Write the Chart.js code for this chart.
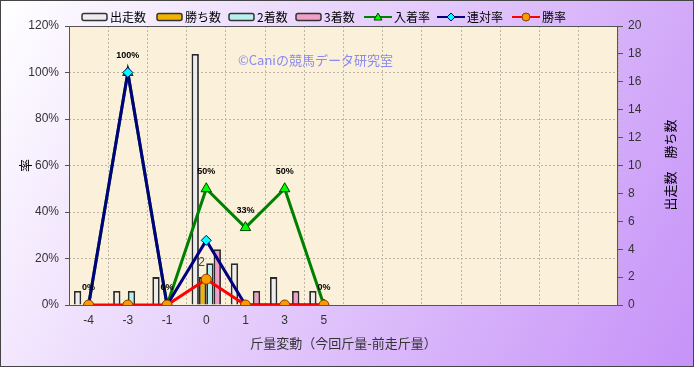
<!DOCTYPE html>
<html lang="ja">
<head>
<meta charset="UTF-8">
<title>斤量変動</title>
<script src="https://cdn.jsdelivr.net/npm/chart.js"></script>
<style>
  body { margin: 0; background: #fff; }
  #wrap { width: 694px; height: 367px; }
</style>
</head>
<body>
<div id="wrap"><canvas id="chart" width="694" height="367"></canvas></div>
<script>
// categories (only the first 7 have data, the rest are empty slots)
const categories = ['-4', '-3', '-1', '0', '1', '3', '5', '', '', '', '', '', '', ''];
const starts  = [1, 1, 2, 18, 3, 2, 1];
const wins    = [0, 0, 0, 2, 0, 0, 0];
const seconds = [0, 1, 0, 3, 0, 0, 0];
const thirds  = [0, 0, 0, 4, 1, 1, 0];
// rates in %
const placeRate  = [0, 100, 0, 50, 33.3, 50, 0];
const rentaiRate = [0, 100, 0, 27.8, 0, 0, 0];
const winRate    = [0, 0, 0, 11.1, 0, 0, 0];
const placeLabels = ['0%', '100%', '0%', '50%', '33%', '50%', '0%'];

const FONT = '"Noto Sans CJK JP", "Noto Sans", sans-serif';
const NUMFONT = '"Liberation Sans", Arial, sans-serif';

// background, plot area, legend, watermark, extra labels
const decor = {
  id: 'decor',
  beforeDraw(chart) {
    const ctx = chart.ctx, a = chart.chartArea;
    const g = ctx.createLinearGradient(0, 0, 694, 367);
    g.addColorStop(0, '#ffffff');
    g.addColorStop(1, '#c692f8');
    ctx.save();
    ctx.fillStyle = g;
    ctx.fillRect(0, 0, 694, 367);
    ctx.fillStyle = '#fbf0d9';
    ctx.fillRect(a.left, a.top, a.right - a.left, a.bottom - a.top);
    ctx.restore();
  },
  beforeDatasetsDraw(chart) {
    const ctx = chart.ctx;
    ctx.save();
    ctx.font = '13px ' + FONT;
    ctx.fillStyle = '#8a8af2';
    ctx.textBaseline = 'middle';
    ctx.fillText('©Caniの競馬データ研究室', 238, 60);
    ctx.restore();
  },
  afterDatasetsDraw(chart) {
    const ctx = chart.ctx;
    ctx.save();
    // 入着率 labels
    const pm = chart.getDatasetMeta(4);
    ctx.font = 'bold 9px ' + NUMFONT;
    ctx.fillStyle = '#000';
    ctx.textAlign = 'center';
    ctx.textBaseline = 'middle';
    placeLabels.forEach((t, i) => {
      const p = pm.data[i];
      ctx.fillText(t, p.x, p.y - 17);
    });
    // 勝ち数 labels
    const wm = chart.getDatasetMeta(1);
    ctx.font = '12px ' + NUMFONT;
    ctx.fillStyle = '#444';
    wins.forEach((v, i) => {
      if (v > 0) {
        const b = wm.data[i];
        ctx.fillText(String(v), b.x - 1, b.y - 14);
      }
    });
    ctx.restore();
  },
  afterDraw(chart) {
    const ctx = chart.ctx, a = chart.chartArea;
    ctx.save();
    ctx.strokeStyle = '#555';
    ctx.lineWidth = 1;
    ctx.strokeRect(a.left + 0.5, a.top + 0.5, a.right - a.left - 1, a.bottom - a.top);
    ctx.strokeStyle = '#444';
    ctx.strokeRect(0.5, 0.5, 693, 366);

    // right axis title, reading bottom to top
    ctx.translate(670, 165);
    ctx.rotate(-Math.PI / 2);
    ctx.font = '13px ' + FONT;
    ctx.fillStyle = '#000';
    ctx.textAlign = 'center';
    ctx.textBaseline = 'middle';
    ctx.fillText('出走数　勝ち数', 0, 0);
    ctx.setTransform(1, 0, 0, 1, 0, 0);

    // legend
    const y = 17;
    ctx.font = '12px ' + FONT;
    ctx.textAlign = 'left';
    ctx.textBaseline = 'middle';
    const bars = [
      ['出走数', '#ededed', 82],
      ['勝ち数', '#f0b400', 157],
      ['2着数', '#b8f0f0', 229],
      ['3着数', '#f0a0c8', 296]
    ];
    bars.forEach(([t, c, x]) => {
      ctx.fillStyle = c;
      ctx.strokeStyle = '#333';
      ctx.lineWidth = 1.5;
      ctx.beginPath();
      ctx.roundRect(x, y - 3.5, 25, 7, 2);
      ctx.fill();
      ctx.stroke();
      ctx.fillStyle = '#000';
      ctx.fillText(t, x + 28, y);
    });
    const lines = [
      ['入着率', '#008000', 364, 'tri', '#00ff00', '#004000'],
      ['連対率', '#000080', 437, 'dia', '#00ffff', '#000080'],
      ['勝率', '#ff0000', 512, 'dot', '#ff9900', '#804000']
    ];
    lines.forEach(([t, c, x, m, f, s]) => {
      ctx.strokeStyle = c;
      ctx.lineWidth = 2;
      ctx.beginPath();
      ctx.moveTo(x, y);
      ctx.lineTo(x + 28, y);
      ctx.stroke();
      const cx = x + 14;
      ctx.fillStyle = f;
      ctx.strokeStyle = s;
      ctx.lineWidth = 1;
      ctx.beginPath();
      if (m === 'tri') {
        ctx.moveTo(cx, y - 4); ctx.lineTo(cx + 4, y + 3); ctx.lineTo(cx - 4, y + 3); ctx.closePath();
      } else if (m === 'dia') {
        ctx.moveTo(cx, y - 4); ctx.lineTo(cx + 4, y); ctx.lineTo(cx, y + 4); ctx.lineTo(cx - 4, y); ctx.closePath();
      } else {
        ctx.arc(cx, y, 4, 0, Math.PI * 2);
      }
      ctx.fill();
      ctx.stroke();
      ctx.fillStyle = '#000';
      ctx.fillText(t, x + 30, y);
    });
    ctx.restore();
  }
};

const barStyle = (label, data, color) => ({
  type: 'bar',
  label: label,
  data: data,
  yAxisID: 'y1',
  backgroundColor: color,
  borderColor: '#2a2a2a',
  borderWidth: 1.8,
  categoryPercentage: 0.75,
  barPercentage: 1,
  order: 10
});

const lineStyle = (label, data, color, pointStyle, radius, fill, border, order) => ({
  type: 'line',
  label: label,
  data: data,
  yAxisID: 'y',
  borderColor: color,
  borderWidth: 3,
  pointStyle: pointStyle,
  pointRadius: radius,
  pointBackgroundColor: fill,
  pointBorderColor: border,
  pointBorderWidth: 1,
  tension: 0,
  order: order
});

new Chart(document.getElementById('chart'), {
  data: {
    labels: categories,
    datasets: [
      barStyle('出走数', starts, '#ededed'),
      barStyle('勝ち数', wins, '#f0b400'),
      barStyle('2着数', seconds, '#b8f0f0'),
      barStyle('3着数', thirds, '#f0a0c8'),
      lineStyle('入着率', placeRate, '#008000', 'triangle', 6, '#00ff00', '#004000', 3),
      lineStyle('連対率', rentaiRate, '#000080', 'rectRot', 5, '#00ffff', '#000080', 2),
      lineStyle('勝率', winRate, '#ff0000', 'circle', 5, '#ff9900', '#804000', 1)
    ]
  },
  options: {
    responsive: false,
    animation: false,
    layout: { padding: { top: 26 } },
    plugins: {
      legend: { display: false },
      tooltip: { enabled: false }
    },
    scales: {
      x: {
        type: 'category',
        offset: true,
        grid: { offset: true, color: '#bdb5a6', drawTicks: false },
        border: { display: false, dash: [2, 2] },
        ticks: { color: '#333', font: { family: NUMFONT, size: 12 }, padding: 8, autoSkip: false, maxRotation: 0 },
        title: { display: true, text: '斤量変動（今回斤量-前走斤量）', color: '#333', font: { family: FONT, size: 13 }, padding: { bottom: 16 } },
        afterFit(s) { s.height = 62; }
      },
      y: {
        position: 'left',
        min: 0,
        max: 120,
        ticks: { stepSize: 20, color: '#333', font: { family: NUMFONT, size: 12 }, padding: 6, callback: v => v + '%' },
        grid: { color: '#bdb5a6', tickColor: '#555', tickLength: 4, tickBorderDash: [] },
        border: { display: false, dash: [2, 2] },
        title: { display: true, text: '率', color: '#000', font: { family: FONT, size: 13 }, padding: { top: 17 } },
        afterFit(s) { s.width = 69; }
      },
      y1: {
        position: 'right',
        min: 0,
        max: 20,
        ticks: { stepSize: 2, color: '#333', font: { family: NUMFONT, size: 12 }, padding: 5 },
        grid: { drawOnChartArea: false, tickColor: '#555', tickLength: 5 },
        border: { display: false },
        afterFit(s) { s.width = 76; }
      }
    }
  },
  plugins: [decor]
});
</script>
</body>
</html>
